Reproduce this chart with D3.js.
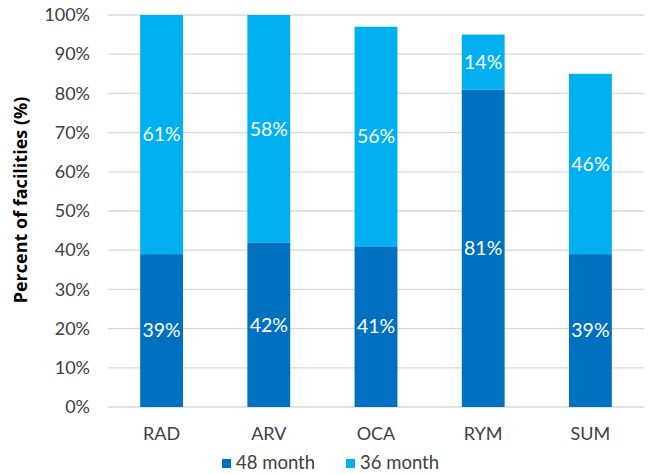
<!DOCTYPE html>
<html>
<head>
<meta charset="utf-8">
<script src="https://cdn.jsdelivr.net/npm/d3@7"></script>
<style>
  html, body { margin: 0; padding: 0; background: #fff; }
  svg { display: block; font-family: Lato, "Open Sans", sans-serif; }
</style>
</head>
<body>
<svg id="chart" width="648" height="474"></svg>
<script>
// Facility shares by site, stacked by reporting window
const categories = ["RAD", "ARV", "OCA", "RYM", "SUM"];
const month48 = [39, 42, 41, 81, 39];
const month36 = [61, 58, 56, 14, 46];
const seriesNames = ["48 month", "36 month"];
const seriesColors = ["#0070C0", "#00B0F0"];
const yTicks = [0, 10, 20, 30, 40, 50, 60, 70, 80, 90, 100];

const svg = d3.select("#chart");
const margin = { left: 108, right: 4, top: 15, bottom: 67 };
const W = 648, H = 474;

const x = d3.scaleBand().domain(categories)
  .range([margin.left, W - margin.right]).paddingInner(0.6).paddingOuter(0.3);
const y = d3.scaleLinear().domain([0, 100]).range([H - margin.bottom, margin.top]);

// gridlines
svg.append("g")
  .selectAll("line").data(yTicks).join("line")
  .attr("x1", margin.left).attr("x2", W - margin.right)
  .attr("y1", d => y(d)).attr("y2", d => y(d))
  .attr("stroke", "#d9d9d9").attr("stroke-width", 1.3);

// y axis labels
const yAxis = d3.axisLeft(y).tickValues(yTicks).tickFormat(d => d + "%").tickSize(0).tickPadding(0);
const ya = svg.append("g").attr("transform", `translate(${margin.left - 18},0)`).call(yAxis);
ya.select(".domain").remove();
ya.selectAll("text").attr("fill", "#404040").style("font-size", "18px").style("font-family", "Lato, sans-serif");

// x axis labels
const xAxis = d3.axisBottom(x).tickSize(0).tickPadding(0);
const xa = svg.append("g").attr("transform", `translate(0,434)`).call(xAxis);
xa.select(".domain").remove();
xa.selectAll("text").attr("dy", "0.35em").attr("fill", "#404040").style("font-size", "18px").style("font-family", "Lato, sans-serif");

// stacked bars
const rows = categories.map((c, i) => ({ cat: c, m48: month48[i], m36: month36[i] }));
const stack = d3.stack().keys(["m48", "m36"])(rows);

stack.forEach((layer, li) => {
  const g = svg.append("g");
  g.selectAll("rect").data(layer).join("rect")
    .attr("x", d => x(d.data.cat))
    .attr("width", x.bandwidth())
    .attr("y", d => y(d[1]))
    .attr("height", d => y(d[0]) - y(d[1]))
    .attr("fill", seriesColors[li]);
  g.selectAll("text").data(layer).join("text")
    .attr("x", d => x(d.data.cat) + x.bandwidth() / 2)
    .attr("y", d => y((d[0] + d[1]) / 2))
    .attr("dy", "0.35em")
    .attr("text-anchor", "middle")
    .attr("fill", "#ffffff")
    .style("font-size", "19.5px")
    .text(d => (d[1] - d[0]) + "%");
});

// y axis title
svg.append("text")
  .attr("transform", `translate(21,200) rotate(-90)`)
  .attr("text-anchor", "middle")
  .attr("dy", "0.35em")
  .attr("fill", "#000")
  .style("font-family", "'Open Sans', sans-serif")
  .style("font-size", "18px")
  .style("font-weight", "bold")
  .text("Percent of facilities (%)");

// legend
const legendX = [222, 346];
const leg = svg.append("g");
seriesNames.forEach((name, i) => {
  leg.append("rect").attr("x", legendX[i]).attr("y", 459).attr("width", 9).attr("height", 9).attr("fill", seriesColors[i]);
  leg.append("text").attr("x", legendX[i] + 14).attr("y", 463).attr("dy", "0.35em")
    .attr("fill", "#404040").style("font-size", "18.5px").text(name);
});
</script>
</body>
</html>
